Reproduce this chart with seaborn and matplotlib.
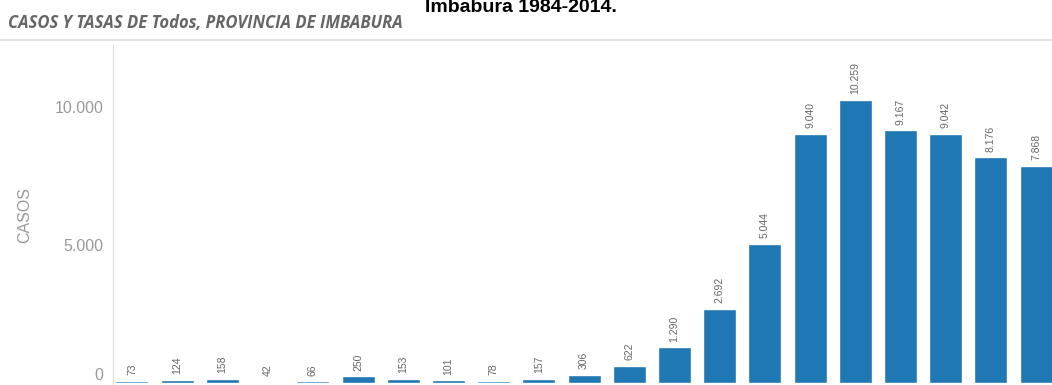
import matplotlib
matplotlib.use("Agg")
import matplotlib.pyplot as plt
import seaborn as sns
import pandas as pd

# Datos (casos por año)
years = [str(y) for y in range(1994, 2015)]
casos = [73, 124, 158, 42, 66, 250, 153, 101, 78, 157, 306, 622,
         1290, 2692, 5044, 9040, 10259, 9167, 9042, 8176, 7868]
y_ticks = [0, 5000, 10000]
y_tick_labels = ["0", "5.000", "10.000"]

title = "Imbabura 1984-2014."
subtitle = "CASOS Y TASAS DE Todos, PROVINCIA DE IMBABURA"


def fmt(v):
    return f"{v:,}".replace(",", ".")


def main():
    sns.set_style("white")
    plt.rcParams['font.family'] = ['Liberation Sans', 'DejaVu Sans']

    df = pd.DataFrame({'anio': years, 'casos': casos})

    fig = plt.figure(figsize=(10.52, 3.85), dpi=100)
    ax = fig.add_axes([113 / 1052, 0.0, 1 - 113 / 1052, 1 - 45 / 385])

    sns.barplot(data=df, x='anio', y='casos', color='#1f77b4', saturation=1,
                width=0.73, ax=ax)

    ax.set_xlim(-0.42, 20.35)
    ax.set_ylim(-72, 12250)

    ax.bar_label(ax.containers[0], labels=[fmt(v) for v in casos],
                 rotation=90, padding=4, fontsize=7.5, color='#666666')

    ax.set_yticks(y_ticks)
    ax.set_yticklabels(y_tick_labels, fontsize=11.5, color='#999999')
    ax.get_yticklabels()[0].set_va('bottom')
    ax.tick_params(axis='y', length=3, color='#e5e5e5', pad=4)
    ax.set_xticks([])
    ax.set_xlabel('')
    ax.set_ylabel('CASOS', fontsize=11.5, color='#999999', labelpad=16)

    for s in ['top', 'right', 'bottom']:
        ax.spines[s].set_visible(False)
    ax.spines['left'].set_color('#dddddd')

    # linea separadora bajo el subtitulo
    fig.add_artist(plt.Line2D([0, 1], [1 - 40 / 385, 1 - 40 / 385],
                              color='#dddddd', lw=1.2, transform=fig.transFigure))

    fig.text(0.495, 1 - 12.5 / 385, title, ha='center', va='baseline',
             fontsize=14, fontweight='bold', color='black')
    fig.text(8 / 1052, 1 - 23 / 385, subtitle, ha='left', va='center',
             fontsize=12, fontweight='bold', fontstyle='italic',
             color='#666666', family=['Open Sans', 'DejaVu Sans'])

    fig.savefig('out.png', dpi=100)
    plt.close(fig)


if __name__ == "__main__":
    main()
